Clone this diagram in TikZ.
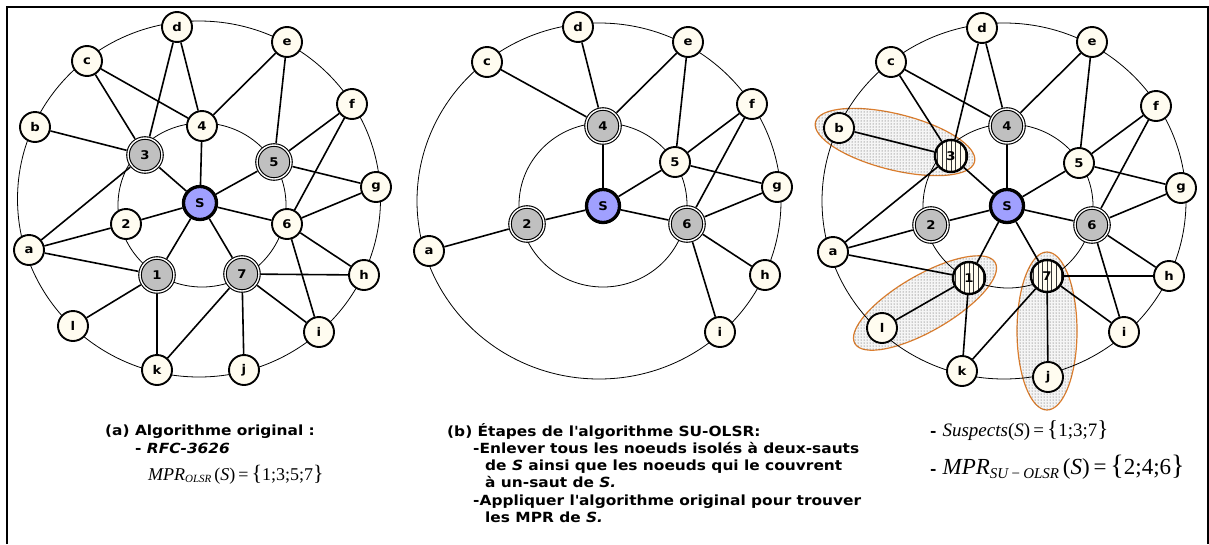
\documentclass[tikz,border=0pt]{standalone}
\usepackage{fontspec}
\setmainfont{DejaVu Sans}
\newfontfamily\capfont{DejaVu Sans}[FakeStretch=1.1]
\newfontfamily\tms{Liberation Serif}
\usetikzlibrary{patterns,backgrounds}

\definecolor{nodecream}{HTML}{FFFCF0}
\definecolor{mprgray}{HTML}{C0C0C0}
\definecolor{srcblue}{HTML}{A0A0FF}
\definecolor{rimorange}{HTML}{DC7E2E}

\tikzset{
  x=1pt, y=-1pt,
  vertex/.style={circle, draw=black, line width=1.9pt, minimum size=30pt, inner sep=0pt,
    font=\capfont\fontsize{12}{12}\selectfont\bfseries},
  plainv/.style={vertex, fill=nodecream},
  mprv/.style={vertex, fill=mprgray, line width=1.1pt, double=white, double distance=1.4pt,
    minimum size=34pt, outer sep=2pt},
  srcv/.style={vertex, fill=srcblue, line width=3.3pt, minimum size=33pt},
  suspv/.style={vertex, fill=nodecream, line width=2.4pt, minimum size=32pt,
    path picture={\foreach \k in {-4,...,4}{
      \draw[line width=0.6pt, black!80] ([xshift=\k*4.6pt]path picture bounding box.north)
        -- ([xshift=\k*4.6pt]path picture bounding box.south);}}},
  link/.style={line width=1.6pt},
  ring/.style={line width=0.8pt},
  zone/.style={draw=rimorange, line width=1.2pt, fill=gray!8,
    postaction={pattern=dots, pattern color=black!75}},
  caption/.style={anchor=base west, inner sep=0pt, font=\capfont\fontsize{14}{16}\selectfont\bfseries},
  formula/.style={anchor=base west, inner sep=0pt},
}

\begin{document}
\begin{tikzpicture}
\useasboundingbox (0,0) rectangle (1209,544);
\draw[line width=2pt] (7,544) -- (7,7) -- (1207.5,7) -- (1207.5,544);

% ---------- (a) original OLSR ----------
\foreach \n/\px/\py in {d/177/27, c/87/61, e/287/42, f/352/104, b/35/127, 4/202/126,
    g/376/187, 2/126/224, 6/287/224, a/29/250, h/364/275, l/73/326, i/319/332,
    k/157/370, j/244/370}
  \node[plainv] (A-\n) at (\px,\py) {\n};
\foreach \n/\px/\py in {3/145/155, 5/274/162, 1/157/275, 7/242/274}
  \node[mprv] (A-\n) at (\px,\py) {\n};
\node[srcv] (A-S) at (200,203) {S};
\foreach \u/\v in {d/4, d/3, c/4, c/3, e/4, e/5, b/3, f/5, f/6, 4/S, 3/S, 3/a, 5/S, 5/g,
    g/6, S/2, S/6, S/1, S/7, 2/a, a/1, 1/l, 1/k, 7/k, 7/j, 7/i, 7/h, 6/h, 6/i}
  \draw[link] (A-\u) -- (A-\v);

% ---------- (b) SU-OLSR reduced graph ----------
\foreach \n/\px/\py in {d/578/27, c/487/62, e/688/42, f/752/104, 5/675/162, g/777/187,
    a/429/251, h/765/275, i/720/332}
  \node[plainv] (B-\n) at (\px,\py) {\n};
\foreach \n/\px/\py in {4/603/126, 2/527/224, 6/687/224}
  \node[mprv] (B-\n) at (\px,\py) {\n};
\node[srcv] (B-S) at (603,206) {S};
\foreach \u/\v in {c/4, d/4, e/4, e/5, 4/S, f/5, f/6, 5/S, 5/g, g/6, S/2, S/6, 2/a, 6/h, 6/i}
  \draw[link] (B-\u) -- (B-\v);

% ---------- (c) suspects and resulting MPR ----------
\foreach \n/\px/\py in {d/982/28, c/891/62, e/1092/42, f/1156/106, b/839/128, 5/1079/163,
    g/1181/188, a/833/252, h/1169/276, l/882/328, i/1124/332, k/962/371, j/1048/377}
  \node[plainv] (C-\n) at (\px,\py) {\n};
\foreach \n/\px/\py in {4/1007/126, 2/931/225, 6/1092/225}
  \node[mprv] (C-\n) at (\px,\py) {\n};
\foreach \n/\px/\py in {3/951/156, 1/969/278, 7/1047/276}
  \node[suspv] (C-\n) at (\px,\py) {\n};
\node[srcv] (C-S) at (1007,206) {S};
\foreach \u/\v in {d/4, d/3, c/4, c/3, e/4, e/5, b/3, f/5, f/6, 4/S, 3/S, 3/a, 5/S, 5/g,
    g/6, S/2, S/6, S/1, S/7, 2/a, a/1, 1/l, 1/k, 7/k, 7/j, 7/i, 7/h, 6/h, 6/i}
  \draw[link] (C-\u) -- (C-\v);

% hop rings and isolated-pair zones behind everything
\begin{scope}[on background layer]
  \path[zone, rotate around={-14:(895,142)}] (895,142) ellipse [x radius=82pt, y radius=28pt];
  \path[zone, rotate around={30:(925,303)}] (925,303) ellipse [x radius=81pt, y radius=28pt];
  \path[zone] (1047,331) ellipse [x radius=30pt, y radius=79pt];
  \draw[ring] (199,199) ellipse [x radius=181.5pt, y radius=178pt];
  \draw[ring] (202,205) ellipse [x radius=84pt, y radius=82pt];
  \draw[ring] (599,201) ellipse [x radius=182pt, y radius=178pt];
  \draw[ring] (603,205) ellipse [x radius=84pt, y radius=82pt];
  \draw[ring] (1004,201) ellipse [x radius=182pt, y radius=178pt];
  \draw[ring] (1008,206) ellipse [x radius=85pt, y radius=82pt];
\end{scope}

% ---------- captions ----------
\node[caption] (ta1) at (105,435) {(a) Algorithme original :};
\node[caption] (ta2) at (135,453) {- \textit{RFC-3626}};
\node[formula] (ta3) at (148,480) {\tms\fontsize{18}{18}\selectfont
  \textit{MPR}\raisebox{-0.3ex}{\fontsize{11}{11}\selectfont\textit{OLSR}}\,(\textit{S})\,=\,{\fontsize{22}{22}\selectfont\{}1;3;5;7{\fontsize{22}{22}\selectfont\}}};

\node[caption] (tb1) at (447,436) {(b) Étapes de l\textquotesingle algorithme SU-OLSR:};
\node[caption] (tb2) at (473,453) {-Enlever tous les noeuds isolés à deux-sauts};
\node[caption] (tb3) at (485,470) {de \textit{S} ainsi que les noeuds qui le couvrent};
\node[caption] (tb4) at (485,487) {à un-saut de \textit{S.}};
\node[caption] (tb5) at (473,505) {-Appliquer l\textquotesingle algorithme original pour trouver};
\node[caption] (tb6) at (485,522) {les MPR de \textit{S.}};

\node[formula] (tc1) at (930,436) {{\capfont\bfseries\fontsize{14}{14}\selectfont -}\hspace{6pt}{\tms\fontsize{19}{19}\selectfont
  \textit{Suspects}(\textit{S})\,=\,{\fontsize{23}{23}\selectfont\{}1;3;7{\fontsize{23}{23}\selectfont\}}}};
\node[formula] (tc2) at (930,474) {{\capfont\bfseries\fontsize{14}{14}\selectfont -}\hspace{6pt}{\tms\fontsize{23}{23}\selectfont
  \textit{MPR}\raisebox{-0.4ex}{\fontsize{15}{15}\selectfont\textit{SU\,−\,OLSR}}\,(\textit{S})\,=\,{\fontsize{28}{28}\selectfont\{}2;4;6{\fontsize{28}{28}\selectfont\}}}};
\end{tikzpicture}
\end{document}
